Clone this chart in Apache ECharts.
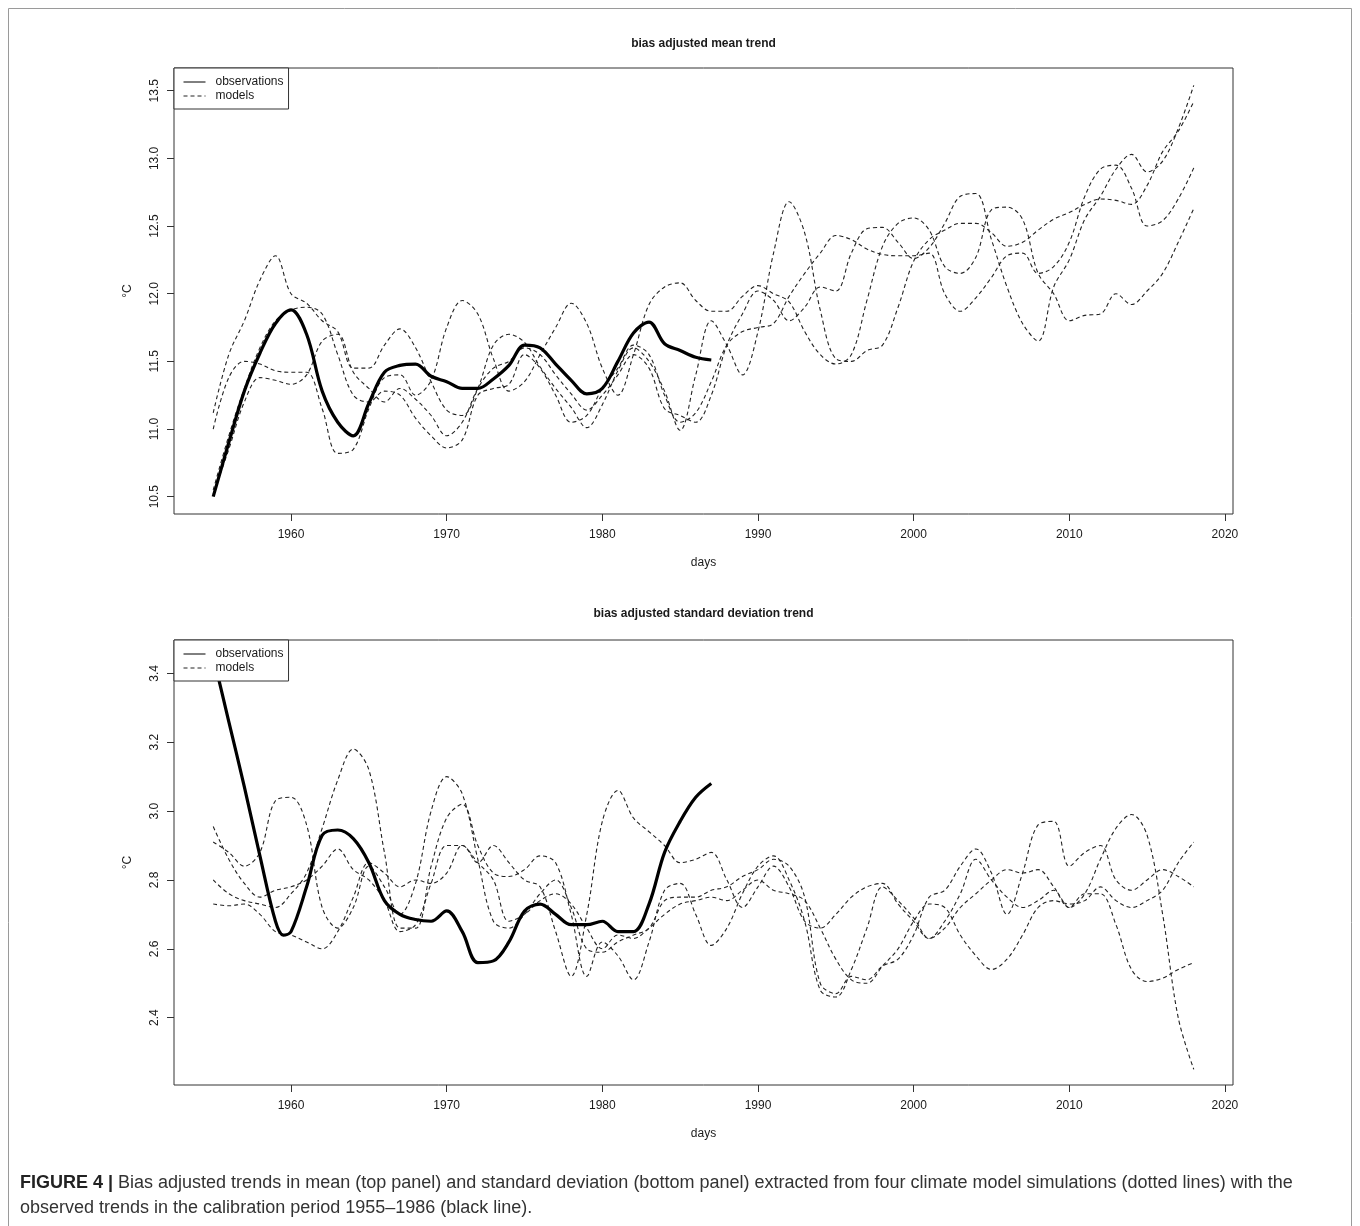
<!DOCTYPE html>
<html>
<head>
<meta charset="utf-8">
<script src="https://cdn.jsdelivr.net/npm/echarts@6/dist/echarts.min.js"></script>
<style>
html,body{margin:0;padding:0;background:#fff;}
#chart{width:1360px;height:1226px;}
</style>
</head>
<body>
<div id="chart"></div>
<script>
// ---------- data ----------
const years = [1955,1956,1957,1958,1959,1960,1961,1962,1963,1964,1965,1966,1967,1968,1969,1970,1971,1972,1973,1974,1975,1976,1977,1978,1979,1980,1981,1982,1983,1984,1985,1986,1987,1988,1989,1990,1991,1992,1993,1994,1995,1996,1997,1998,1999,2000,2001,2002,2003,2004,2005,2006,2007,2008,2009,2010,2011,2012,2013,2014,2015,2016,2017,2018];
const xTicks = [1960,1970,1980,1990,2000,2010,2020];

// top panel: mean trend (deg C)
const meanTicks = [10.5,11.0,11.5,12.0,12.5,13.0,13.5];
const obsMeanYears = [1955,1956,1957,1958,1959,1960,1961,1962,1963,1964,1965,1966,1967,1968,1969,1970,1971,1972,1973,1974,1975,1976,1977,1978,1979,1980,1981,1982,1983,1984,1985,1986,1987];
const obsMean = [10.50,10.90,11.28,11.56,11.78,11.88,11.70,11.28,11.05,10.95,11.19,11.42,11.47,11.48,11.39,11.35,11.30,11.30,11.37,11.47,11.62,11.60,11.48,11.36,11.26,11.30,11.50,11.71,11.79,11.63,11.58,11.53,11.51];
const meanModel1 = [11.12,11.55,11.80,12.10,12.28,12.00,11.93,11.80,11.72,11.45, 11.45,11.62,11.74,11.60,11.35,11.14,11.10,11.30,11.62,11.70, 11.64,11.46,11.30,11.16,11.01,11.18,11.43,11.60,11.50,11.28, 10.99,11.40,11.80,11.62,11.40,11.72,12.30,12.68,12.45,11.88, 11.52,11.50,11.58,11.62,11.90,12.24,12.40,12.47,12.52,12.52, 12.45,12.35,12.38,12.47,12.55,12.60,12.66,12.70,12.69,12.66, 12.80,13.05,13.20,13.42];
const meanModel2 = [11.00,11.38,11.50,11.48,11.43,11.42,11.42,11.15,10.82,10.85, 11.15,11.38,11.40,11.25,11.36,11.75,11.95,11.85,11.52,11.28, 11.35,11.55,11.75,11.93,11.78,11.45,11.25,11.55,11.92,12.05, 12.08,11.95,11.87,11.87,11.98,12.06,12.00,11.94,11.72,11.55, 11.48,11.55,11.95,12.35,12.52,12.56,12.47,12.20,12.15,12.27, 12.62,12.64,12.55,12.15,12.00,11.80,11.84,11.85,12.00,11.92, 12.02,12.15,12.38,12.63];
const meanModel3 = [10.55,10.95,11.30,11.60,11.80,11.88,11.90,11.85,11.55,11.25, 11.20,11.28,11.25,11.08,10.95,10.86,10.92,11.25,11.30,11.33, 11.55,11.45,11.25,11.05,11.10,11.30,11.45,11.62,11.55,11.25, 11.05,11.12,11.35,11.62,11.72,11.75,11.78,11.98,12.15,12.30, 12.43,12.40,12.33,12.29,12.28,12.28,12.30,12.00,11.87,11.97, 12.12,12.28,12.30,12.15,12.20,12.38,12.72,12.92,12.95,12.78, 12.50,12.54,12.70,12.93];
const meanModel4 = [10.52,10.85,11.20,11.38,11.36,11.33,11.40,11.65,11.70,11.42, 11.30,11.20,11.30,11.22,11.10,10.95,11.05,11.30,11.45,11.50, 11.60,11.55,11.40,11.26,11.14,11.25,11.40,11.55,11.45,11.15, 11.10,11.05,11.25,11.62,11.85,12.02,11.95,11.80,11.90,12.05, 12.02,12.30,12.48,12.49,12.38,12.26,12.34,12.52,12.72,12.74, 12.40,12.05,11.78,11.65,12.05,12.25,12.55,12.72,12.92,13.03, 12.90,12.98,13.22,13.54];

// bottom panel: standard deviation trend (deg C)
const sdTicks = [2.4,2.6,2.8,3.0,3.2,3.4];
const obsSdYears = [1955,1956,1957,1958,1959,1959.5,1960,1961,1962,1963,1964,1965,1966,1967,1968,1969,1970,1971,1972,1973,1974,1975,1976,1977,1978,1979,1980,1981,1982,1983,1984,1985,1986,1987];
const obsSd = [3.45,3.26,3.07,2.87,2.68,2.64,2.65,2.78,2.93,2.945,2.92,2.85,2.74,2.70,2.685,2.68,2.71,2.65,2.56,2.565,2.62,2.71,2.73,2.70,2.67,2.67,2.68,2.65,2.65,2.73,2.88,2.97,3.04,3.08];
const sdModel1 = [2.955,2.86,2.79,2.75,2.77,2.78,2.80,2.84,2.89,2.83, 2.80,2.74,2.65,2.67,2.79,2.90,2.90,2.85,2.90,2.85, 2.80,2.78,2.65,2.52,2.70,2.97,3.06,2.98,2.94,2.90, 2.85,2.86,2.88,2.80,2.72,2.78,2.84,2.78,2.68,2.66, 2.70,2.75,2.78,2.79,2.73,2.68,2.63,2.66,2.72,2.76, 2.80,2.83,2.82,2.83,2.78,2.72,2.76,2.76,2.67,2.54, 2.505,2.515,2.54,2.56];
const sdModel2 = [2.91,2.88,2.84,2.88,3.03,3.04,2.96,2.72,2.66,2.72, 2.84,2.78,2.70,2.79,3.00,3.10,3.05,2.86,2.68,2.66, 2.70,2.76,2.80,2.72,2.60,2.59,2.62,2.64,2.66,2.74, 2.75,2.75,2.77,2.78,2.81,2.83,2.86,2.84,2.75,2.50, 2.47,2.52,2.51,2.55,2.57,2.64,2.75,2.77,2.84,2.89, 2.82,2.70,2.82,2.96,2.97,2.84,2.88,2.90,2.80,2.77, 2.80,2.83,2.81,2.78];
const sdModel3 = [2.80,2.76,2.74,2.73,2.72,2.76,2.82,2.95,3.09,3.18, 3.12,2.88,2.66,2.66,2.84,2.98,3.02,2.90,2.82,2.81, 2.83,2.87,2.85,2.70,2.52,2.62,2.58,2.51,2.62,2.77, 2.79,2.70,2.61,2.66,2.76,2.84,2.87,2.80,2.68,2.48, 2.46,2.54,2.66,2.78,2.74,2.69,2.63,2.68,2.76,2.86, 2.80,2.75,2.72,2.74,2.77,2.72,2.76,2.86,2.95,2.99, 2.93,2.70,2.40,2.25];
const sdModel4 = [2.73,2.725,2.73,2.70,2.65,2.64,2.62,2.60,2.65,2.75, 2.85,2.82,2.78,2.80,2.79,2.82,2.90,2.85,2.80,2.68, 2.70,2.74,2.76,2.73,2.66,2.60,2.64,2.63,2.66,2.70, 2.73,2.74,2.75,2.74,2.77,2.80,2.77,2.76,2.74,2.66, 2.57,2.51,2.50,2.55,2.60,2.68,2.73,2.72,2.64,2.58, 2.54,2.57,2.64,2.72,2.74,2.73,2.74,2.78,2.74,2.72, 2.74,2.77,2.85,2.91];

// ---------- chart ----------
const FONT = 'Liberation Sans, Arial, sans-serif';
const INK = '#1a1a1a';
function pairs(xs, ys){ return xs.map((x,i)=>[x, ys[i]]); }

const chart = echarts.init(document.getElementById('chart'), null, {renderer:'canvas'});

function xAxisCfg(gi){
  return {
    type:'value', gridIndex:gi, min:1952.48, max:2020.52,
    name:'days', nameLocation:'middle', nameGap:43,
    nameTextStyle:{fontFamily:FONT, fontSize:12, color:INK},
    splitLine:{show:false}, axisLine:{show:false},
    axisTick:{show:true, inside:false, length:7, customValues:xTicks, lineStyle:{color:'#333', width:1}},
    axisLabel:{customValues:xTicks, margin:15, fontFamily:FONT, fontSize:12, color:INK,
      formatter:(v)=>String(Math.round(v))}
  };
}
function yAxisCfg(gi, mn, mx, ticks){
  return {
    type:'value', gridIndex:gi, min:mn, max:mx,
    name:'°C', nameLocation:'middle', nameGap:40, nameRotate:90,
    nameTextStyle:{fontFamily:FONT, fontSize:12, color:INK},
    splitLine:{show:false}, axisLine:{show:false},
    axisTick:{show:true, inside:false, length:7, customValues:ticks, lineStyle:{color:'#333', width:1}},
    axisLabel:{customValues:ticks, rotate:90, margin:13, fontFamily:FONT, fontSize:12, color:INK,
      formatter:(v)=>Number(v).toFixed(1)}
  };
}
function obsSeries(xi, data){
  return {type:'line', name:'observations', xAxisIndex:xi, yAxisIndex:xi, data:data,
    symbol:'none', smooth:0.35, lineStyle:{color:'#000', width:3.2}, z:3};
}
function modelSeries(xi, vals){
  return {type:'line', name:'models', xAxisIndex:xi, yAxisIndex:xi, data:pairs(years, vals),
    symbol:'none', smooth:0.35, lineStyle:{color:'#222', width:1.1, type:[4,3]}, z:2};
}
function legendCfg(top){
  return {
    orient:'vertical', left:174, top:top, data:['observations','models'],
    backgroundColor:'#fff', borderColor:'#333', borderWidth:1, borderRadius:0,
    padding:[8,5,7,9], itemGap:2, itemWidth:22, itemHeight:12,
    textStyle:{fontFamily:FONT, fontSize:12, color:INK, padding:[0,0,0,5]},
    itemStyle:{opacity:0}, lineStyle:{width:1},
    selectedMode:false
  };
}

const option = {
  backgroundColor:'#fff',
  animation:false,
  title:[
    {text:'bias adjusted mean trend', left:703.5, top:38, padding:0, textAlign:'center', textVerticalAlign:'top',
      textStyle:{fontFamily:FONT, fontSize:12, fontWeight:'bold', color:INK}},
    {text:'bias adjusted standard deviation trend', left:703.5, top:608, padding:0, textAlign:'center', textVerticalAlign:'top',
      textStyle:{fontFamily:FONT, fontSize:12, fontWeight:'bold', color:INK}}
  ],
  legend:[legendCfg(68), legendCfg(640)],
  grid:[
    {left:174, top:68, width:1059, height:446, show:true, borderColor:'#333', borderWidth:1, backgroundColor:'transparent'},
    {left:174, top:640, width:1059, height:445, show:true, borderColor:'#333', borderWidth:1, backgroundColor:'transparent'}
  ],
  xAxis:[xAxisCfg(0), xAxisCfg(1)],
  yAxis:[yAxisCfg(0, 10.372, 13.668, meanTicks), yAxisCfg(1, 2.2046, 3.4967, sdTicks)],
  series:[
    modelSeries(0, meanModel1), modelSeries(0, meanModel2), modelSeries(0, meanModel3), modelSeries(0, meanModel4),
    obsSeries(0, pairs(obsMeanYears, obsMean)),
    modelSeries(1, sdModel1), modelSeries(1, sdModel2), modelSeries(1, sdModel3), modelSeries(1, sdModel4),
    obsSeries(1, pairs(obsSdYears, obsSd))
  ],
  graphic:[
    {type:'rect', shape:{x:8.5, y:8.5, width:1343, height:1240}, style:{fill:'none', stroke:'#9a9a9a', lineWidth:1}, silent:true, z:-1},
    {type:'text', x:20, y:1183, silent:true,
      style:{text:'{b|FIGURE 4 |} Bias adjusted trends in mean (top panel) and standard deviation (bottom panel) extracted from four climate model simulations (dotted lines) with the',
        font:'18px ' + FONT, fill:'#333', verticalAlign:'middle',
        rich:{b:{fontWeight:'bold', fontSize:18, fontFamily:FONT, fill:'#222'}}}},
    {type:'text', x:20, y:1208, silent:true,
      style:{text:'observed trends in the calibration period 1955–1986 (black line).',
        font:'18px ' + FONT, fill:'#333', verticalAlign:'middle'}}
  ]
};
chart.setOption(option);
</script>
</body>
</html>
